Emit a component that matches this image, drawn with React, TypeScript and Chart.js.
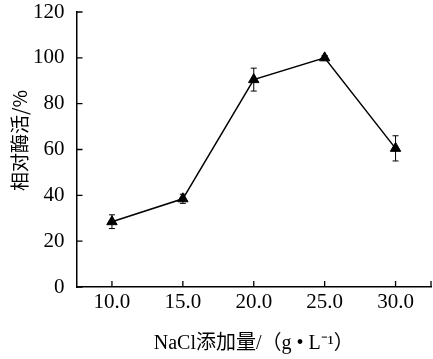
import React, { useEffect, useRef } from "react";
import { Chart, registerables } from "chart.js";

Chart.register(...registerables);

const categories = ["10.0", "15.0", "20.0", "25.0", "30.0"];
const activity = [28.5, 38.5, 90.5, 100, 60.5];
const errors = [3, 2, 5, 1, 5.5];
const yTitle = "相对酶活/%";
const xTitle = "NaCl添加量/（g • L⁻¹）";

const SERIF = '"Liberation Serif", "Times New Roman", serif';

const axisPlugin = {
  id: "axisDecor",
  afterDatasetsDraw(chart: any) {
    const ctx = chart.ctx;
    const ys = chart.scales.y;
    const meta = chart.getDatasetMeta(0);
    ctx.save();
    ctx.strokeStyle = "#000";
    ctx.lineWidth = 1;
    meta.data.forEach((pt: any, i: number) => {
      const x = pt.x;
      const yTop = ys.getPixelForValue(activity[i] + errors[i]);
      const yBot = ys.getPixelForValue(activity[i] - errors[i]);
      ctx.beginPath();
      ctx.moveTo(x, yTop);
      ctx.lineTo(x, yBot);
      ctx.moveTo(x - 3, yTop);
      ctx.lineTo(x + 3, yTop);
      ctx.moveTo(x - 3, yBot);
      ctx.lineTo(x + 3, yBot);
      ctx.stroke();
    });
    ctx.restore();
  },
  afterDraw(chart: any) {
    const ctx = chart.ctx;
    const xs = chart.scales.x;
    const ys = chart.scales.y;
    const area = chart.chartArea;
    ctx.save();
    ctx.strokeStyle = "#000";
    ctx.lineWidth = 1.3;
    ctx.beginPath();
    ys.ticks.forEach((t: any) => {
      const y = ys.getPixelForValue(t.value);
      ctx.moveTo(area.left, y);
      ctx.lineTo(area.left + 6, y);
    });
    categories.forEach((_c, i) => {
      const x = xs.getPixelForValue(i);
      ctx.moveTo(x, area.bottom);
      ctx.lineTo(x, area.bottom - 6);
    });
    ctx.moveTo(area.right, area.bottom);
    ctx.lineTo(area.right, area.bottom - 6);
    ctx.stroke();
    ctx.fillStyle = "#000";
    ctx.translate(19.5, 140.5);
    ctx.rotate(-Math.PI / 2);
    ctx.textAlign = "center";
    ctx.textBaseline = "middle";
    ctx.font = '19px "Noto Sans CJK SC", sans-serif';
    ctx.fillText(yTitle, 0, 0);
    ctx.restore();
  },
};

export default function App() {
  const ref = useRef<HTMLCanvasElement | null>(null);
  useEffect(() => {
    if (!ref.current) return;
    const chart = new Chart(ref.current, {
      type: "line",
      data: {
        labels: categories,
        datasets: [
          {
            data: activity,
            borderColor: "#000",
            backgroundColor: "#000",
            borderWidth: 1.5,
            pointStyle: "triangle",
            pointRadius: 6,
            pointBorderWidth: 1,
            pointBackgroundColor: "#000",
            pointBorderColor: "#000",
            tension: 0,
          },
        ],
      },
      options: {
        responsive: false,
        animation: false,
        layout: { autoPadding: false, padding: { top: 12, right: 2, left: 0, bottom: 0 } },
        plugins: { legend: { display: false }, tooltip: { enabled: false } },
        scales: {
          x: {
            type: "category",
            offset: true,
            grid: { display: false, drawTicks: false },
            border: { display: true, color: "#000", width: 1.5 },
            ticks: { color: "#000", font: { family: SERIF, size: 21 }, padding: 3, maxRotation: 0 },
            title: {
              display: true,
              text: xTitle,
              color: "#000",
              font: { family: '"Liberation Serif", "Noto Sans CJK SC", serif', size: 20 },
              padding: { top: 0, bottom: 3 },
            },
            afterFit(scale: any) {
              scale.height = 72;
            },
          },
          y: {
            min: 0,
            max: 120,
            grid: { display: false, drawTicks: false },
            border: { display: true, color: "#000", width: 1.5 },
            ticks: { stepSize: 20, color: "#000", font: { family: SERIF, size: 21, lineHeight: 0.5 }, padding: 12 },
            afterFit(scale: any) {
              scale.width = 76.5;
              scale.paddingTop = 0;
              scale.paddingBottom = 0;
            },
          },
        },
      },
      plugins: [axisPlugin],
    });
    return () => chart.destroy();
  }, []);
  return (
    <div style={{ position: "fixed", left: 0, top: 0, width: 433, height: 359, background: "#fff" }}>
      <canvas ref={ref} width={433} height={359} />
    </div>
  );
}
